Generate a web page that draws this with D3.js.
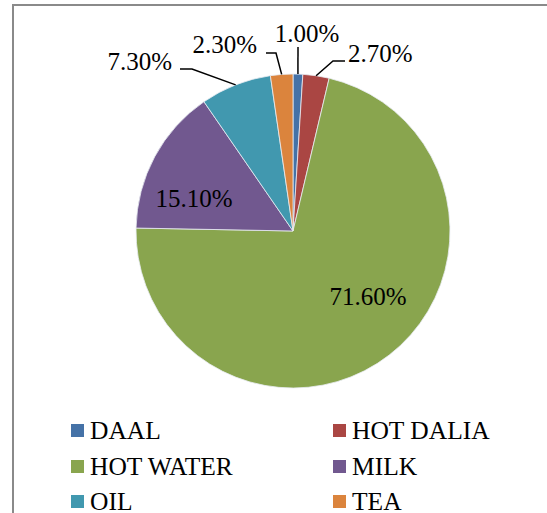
<!DOCTYPE html>
<html>
<head>
<meta charset="utf-8">
<script src="https://cdn.jsdelivr.net/npm/d3@7"></script>
</head>
<body style="margin:0;padding:0;background:#fff">
<svg id="chart" width="547" height="513" style="display:block"></svg>
<script>
// ---- data ----
const categories = ["DAAL", "HOT DALIA", "HOT WATER", "MILK", "OIL", "TEA"];
const values = [1.0, 2.7, 71.6, 15.1, 7.3, 2.3];
const labels = ["1.00%", "2.70%", "71.60%", "15.10%", "7.30%", "2.30%"];
const colors = ["#4572A7", "#AA4643", "#89A54E", "#71588F", "#4198AF", "#DB843D"];

// ---- layout ----
const W = 547, H = 513;
const cx = 293, cy = 231, R = 157;
const FONT = `"${["Liberation", "Serif"].join(" ")}"`;
const labelLayout = [
  { type: "out", text: [14, -189], anchor: "middle", bend: [5, -184] },
  { type: "out", text: [55, -169], anchor: "start", bend: [40, -170], end: [52, -170] },
  { type: "in", text: [75, 74] },
  { type: "in", text: [-99, -24] },
  { type: "out", text: [-121, -161], anchor: "end", bend: [-101, -162], end: [-113, -162] },
  { type: "out", text: [-36, -178], anchor: "end", bend: [-17, -178], end: [-27, -178] }
];

const svg = d3.select("#chart");

svg.append("rect")
  .attr("x", 13).attr("y", 5)
  .attr("width", W).attr("height", H)
  .attr("fill", "none").attr("stroke", "#8a8a8a").attr("stroke-width", 2);

const g = svg.append("g").attr("transform", `translate(${cx},${cy})`);

const pie = d3.pie().sort(null).value(d => d)(values);
const arc = d3.arc().innerRadius(0).outerRadius(R);

g.selectAll("path.slice")
  .data(pie)
  .join("path")
  .attr("class", "slice")
  .attr("d", arc)
  .attr("fill", (d, i) => colors[i])
  .attr("stroke", "#e8ecf2")
  .attr("stroke-width", 0.8);

pie.forEach((d, i) => {
  const L = labelLayout[i];
  const mid = (d.startAngle + d.endAngle) / 2;
  if (L.type === "out") {
    const px = R * Math.sin(mid), py = -R * Math.cos(mid);
    const pts = [[px, py], L.bend];
    if (L.end) pts.push(L.end);
    g.append("path")
      .attr("d", d3.line()(pts))
      .attr("fill", "none").attr("stroke", "#000").attr("stroke-width", 1.5);
  }
  g.append("text")
    .attr("x", L.text[0]).attr("y", L.text[1])
    .attr("text-anchor", L.type === "in" ? "middle" : L.anchor)
    .style("font-family", FONT)
    .style("font-size", "25px")
    .style("fill", "#000")
    .text(labels[i]);
});

const legend = svg.append("g");
const colX = [71, 333];
const rowY = [439, 475, 510];
categories.forEach((c, i) => {
  const x = colX[i % 2], y = rowY[Math.floor(i / 2)];
  legend.append("rect")
    .attr("x", x).attr("y", y - 15)
    .attr("width", 13).attr("height", 13)
    .attr("fill", colors[i]);
  legend.append("text")
    .attr("x", x + 19).attr("y", y)
    .style("font-family", FONT)
    .style("font-size", "25.5px")
    .style("fill", "#000")
    .text(c);
});
</script>
</body>
</html>
